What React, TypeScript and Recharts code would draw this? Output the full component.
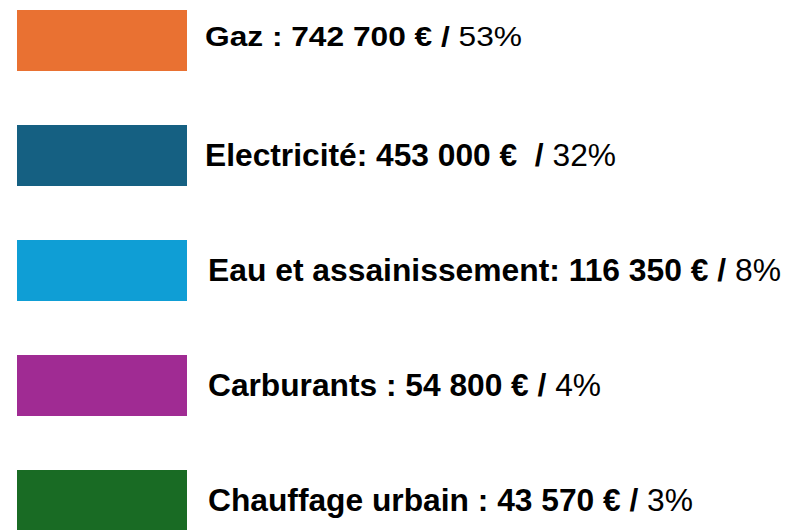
import { Bar, BarChart, Cell, LabelList, XAxis, YAxis } from "recharts";

const categories = ["Gaz :", "Electricité:", "Eau et assainissement:", "Carburants :", "Chauffage urbain :"];
const amounts = ["742 700", "453 000", "116 350", "54 800", "43 570"];
const shares = [53, 32, 8, 4, 3];
// legend swatches all have the same length
const swatch = [1, 1, 1, 1, 1];
const colors = ["#E97132", "#156082", "#0F9ED5", "#A02B93", "#196B24"];

// per-row text tweaks (the first line is set smaller and stretched in the original)
const labelDx = [18, 18, 21, 21, 21];
const labelDy = [5.5, 10, 10, 10, 10];
const labelSize = [28, 31.6, 31.6, 31.6, 31.6];
const labelWidth = [317, 411, 573, 393, 485];
const slashGap = [" ", "  ", " ", " ", " "];

const data = categories.map((name, i) => ({
  name,
  amount: amounts[i],
  share: shares[i],
  swatch: swatch[i],
}));

function LegendText(props: any) {
  const { x, y, width, height, index } = props;
  const d = data[index];
  return (
    <text
      x={x + width + labelDx[index]}
      y={y + height / 2 + labelDy[index]}
      fontFamily='"Liberation Sans", Arial, sans-serif'
      fontSize={labelSize[index]}
      fill="#000"
      textLength={labelWidth[index]}
      lengthAdjust="spacingAndGlyphs"
      style={{ whiteSpace: "pre" }}
    >
      <tspan fontWeight="bold">{`${d.name} ${d.amount} €${slashGap[index]}/`}</tspan>
      <tspan fontWeight="normal">{` ${d.share}%`}</tspan>
    </text>
  );
}

export default function App() {
  return (
    <div
      style={{
        position: "fixed",
        left: 0,
        top: 0,
        width: 787,
        height: 530,
        overflow: "hidden",
        background: "#fff",
      }}
    >
      <div style={{ position: "absolute", left: 0, top: -17 }}>
        <BarChart
          width={787}
          height={575}
          data={data}
          layout="vertical"
          margin={{ top: 0, right: 600, bottom: 0, left: 17 }}
          barSize={61}
        >
          <XAxis type="number" domain={[0, 1]} hide />
          <YAxis type="category" dataKey="name" hide />
          <Bar dataKey="swatch" isAnimationActive={false}>
            {data.map((d, i) => (
              <Cell key={d.name} fill={colors[i]} />
            ))}
            <LabelList dataKey="share" content={<LegendText />} />
          </Bar>
        </BarChart>
      </div>
    </div>
  );
}
